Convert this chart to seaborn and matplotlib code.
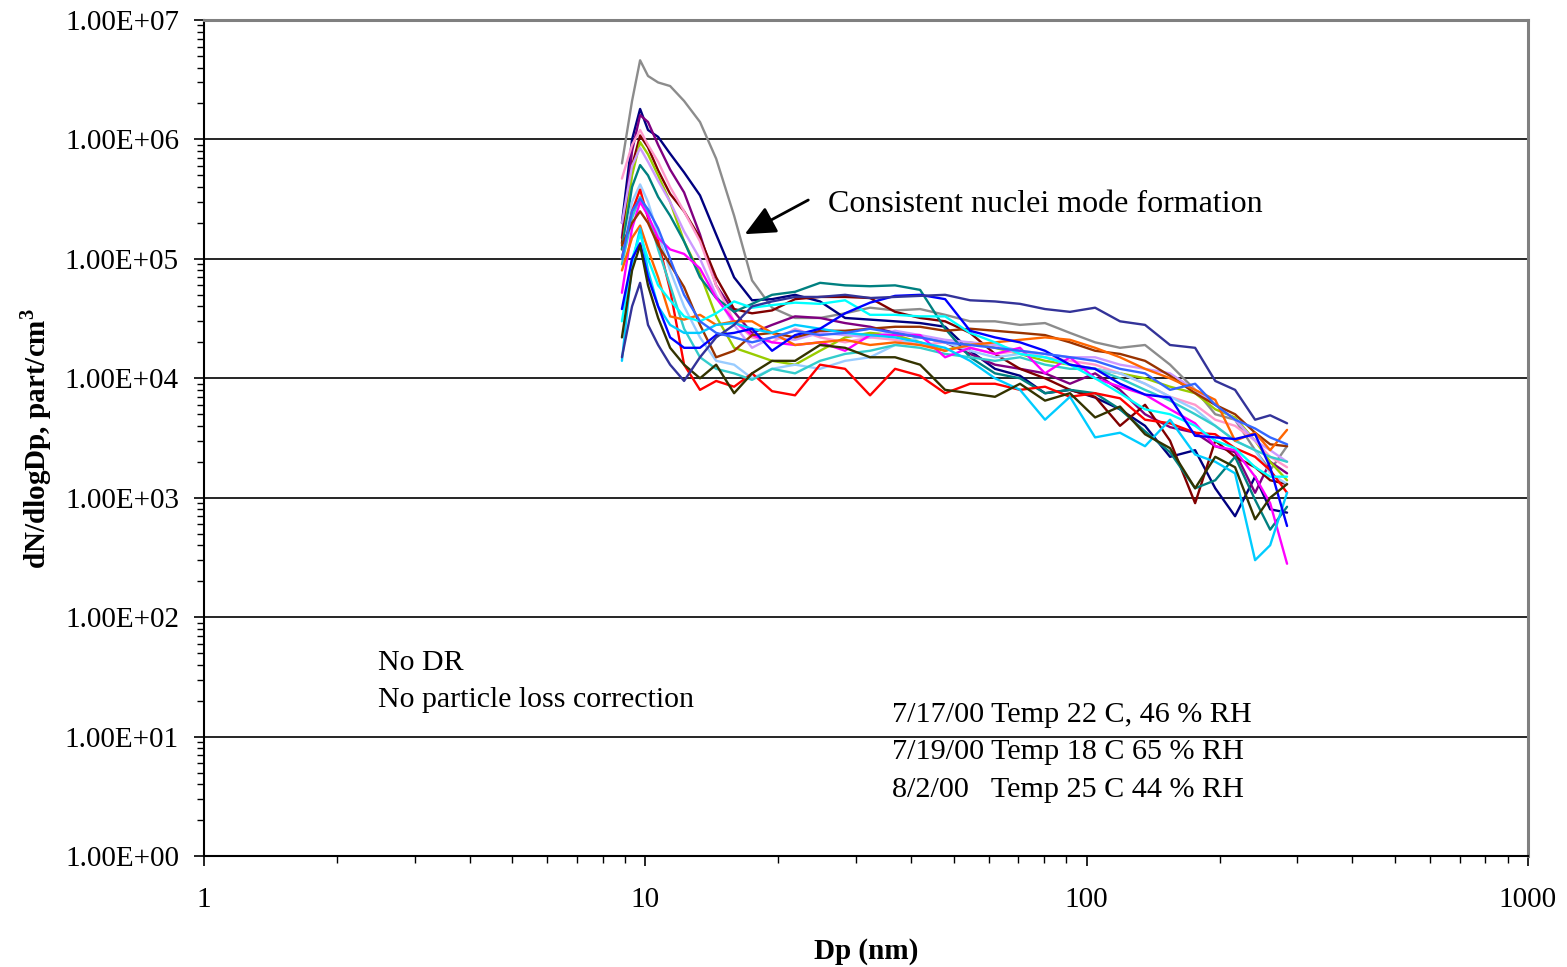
import matplotlib
matplotlib.use("Agg")
import matplotlib.pyplot as plt
import pandas as pd
import seaborn as sns
from matplotlib.ticker import LogLocator, FixedLocator, FixedFormatter, NullFormatter

# Mobility diameter channels (nm)
dp_nm = [8.85, 9.33, 9.73, 10.14, 10.69, 11.38, 12.24, 13.30, 14.47, 15.89,
         17.45, 19.37, 21.84, 24.88, 28.35, 32.30, 36.80, 41.94, 47.78, 54.43,
         61.98, 70.63, 80.47, 91.66, 104.5, 119.0, 135.6, 154.5, 176.1, 195.6,
         216.9, 240.8, 260.5, 284.5]

# dN/dlogDp (part/cm3) for each scan
scan_gray = [6.3e5, 2.1e6, 4.6e6, 3.4e6, 3.0e6, 2.8e6, 2.1e6, 1.4e6, 6.9e5, 2.3e5,
             6.6e4, 3.9e4, 3.2e4, 3.2e4, 3.5e4, 3.9e4, 3.7e4, 3.8e4, 3.4e4, 3.0e4,
             3.0e4, 2.8e4, 2.9e4, 2.4e4, 2.0e4, 1.8e4, 1.9e4, 1.3e4, 8.0e3, 5.0e3,
             4.5e3, 2.5e3, 1.7e3, 2.7e3]
scan_navy = [2.0e5, 1.0e6, 1.8e6, 1.2e6, 1.05e6, 7.6e5, 5.3e5, 3.4e5, 1.6e5, 7.0e4,
             4.5e4, 4.6e4, 5.0e4, 4.4e4, 3.2e4, 3.1e4, 3.0e4, 2.9e4, 2.7e4, 1.7e4,
             1.2e4, 1.05e4, 7.5e3, 8.0e3, 6.9e3, 5.5e3, 4.0e3, 2.2e3, 2.5e3, 1.2e3,
             7.0e2, 1.5e3, 8.0e2, 7.5e2]
scan_purple = [1.5e5, 8.0e5, 1.6e6, 1.4e6, 9.0e5, 5.6e5, 3.6e5, 1.6e5, 6.0e4, 3.6e4,
               2.4e4, 2.8e4, 3.3e4, 3.2e4, 2.9e4, 2.7e4, 2.4e4, 2.2e4, 2.0e4, 1.6e4,
               1.3e4, 1.2e4, 1.1e4, 9.0e3, 1.1e4, 8.0e3, 5.0e3, 3.9e3, 3.5e3, 2.7e3,
               2.4e3, 1.1e3, 2.0e3, 1.6e3]
scan_maroon = [1.35e5, 6.0e5, 1.08e6, 8.6e5, 5.5e5, 3.5e5, 2.5e5, 1.5e5, 7.0e4, 3.8e4,
               3.5e4, 3.7e4, 4.6e4, 4.8e4, 4.8e4, 4.7e4, 3.6e4, 3.2e4, 3.0e4, 2.4e4,
               1.6e4, 1.2e4, 1.0e4, 8.0e3, 7.0e3, 4.0e3, 6.0e3, 3.0e3, 9.0e2, 3.0e3,
               2.2e3, 1.8e3, 1.4e3, 1.3e3]
scan_yellowgreen = [1.2e5, 5.0e5, 9.5e5, 7.5e5, 5.0e5, 3.0e5, 1.4e5, 7.5e4, 3.3e4, 1.8e4,
                    1.6e4, 1.4e4, 1.3e4, 1.7e4, 2.2e4, 2.4e4, 2.3e4, 2.0e4, 1.7e4, 2.0e4,
                    1.8e4, 1.6e4, 1.4e4, 1.3e4, 1.2e4, 1.1e4, 1.0e4, 8.5e3, 7.5e3, 5.5e3,
                    4.7e3, 3.0e3, 2.0e3, 1.4e3]
scan_pink = [4.7e5, 9.0e5, 1.2e6, 9.0e5, 6.5e5, 4.0e5, 2.5e5, 1.4e5, 6.0e4, 3.0e4,
             2.2e4, 2.0e4, 2.6e4, 2.2e4, 2.0e4, 2.2e4, 2.1e4, 1.9e4, 2.0e4, 1.8e4,
             1.6e4, 1.7e4, 1.5e4, 1.4e4, 1.3e4, 1.1e4, 9.0e3, 7.0e3, 6.0e3, 4.5e3,
             4.0e3, 3.0e3, 2.2e3, 1.8e3]
scan_lavender = [2.0e5, 6.0e5, 8.5e5, 6.5e5, 4.5e5, 3.0e5, 1.7e5, 1.0e5, 5.0e4, 2.8e4,
                 1.8e4, 2.2e4, 2.1e4, 2.4e4, 2.3e4, 2.2e4, 2.5e4, 2.3e4, 2.1e4, 2.0e4,
                 1.9e4, 1.7e4, 1.6e4, 1.5e4, 1.5e4, 1.3e4, 1.2e4, 1.1e4, 8.0e3, 6.0e3,
                 4.5e3, 3.0e3, 2.5e3, 2.0e3]
scan_teal = [1.2e5, 4.0e5, 6.1e5, 5.0e5, 3.3e5, 2.3e5, 1.4e5, 7.0e4, 4.7e4, 3.6e4,
             4.2e4, 5.0e4, 5.3e4, 6.3e4, 6.0e4, 5.9e4, 6.0e4, 5.5e4, 2.6e4, 1.5e4,
             1.1e4, 1.0e4, 7.5e3, 8.0e3, 7.5e3, 5.5e3, 3.6e3, 2.4e3, 1.2e3, 1.4e3,
             2.2e3, 9.6e2, 5.4e2, 8.4e2]
scan_lightblue = [1.0e5, 3.0e5, 4.2e5, 3.0e5, 1.6e5, 8.0e4, 4.0e4, 2.2e4, 1.4e4, 1.3e4,
                  1.0e4, 1.2e4, 1.3e4, 1.2e4, 1.4e4, 1.5e4, 1.9e4, 2.2e4, 2.0e4, 1.7e4,
                  1.5e4, 1.6e4, 1.5e4, 1.3e4, 1.2e4, 1.1e4, 9.0e3, 7.0e3, 5.5e3, 4.0e3,
                  3.0e3, 2.5e3, 1.6e3, 1.3e3]
scan_red = [1.0e5, 2.5e5, 3.8e5, 2.2e5, 1.4e5, 5.5e4, 1.3e4, 8.0e3, 9.5e3, 8.5e3,
            1.1e4, 7.8e3, 7.2e3, 1.3e4, 1.2e4, 7.2e3, 1.2e4, 1.05e4, 7.5e3, 9.0e3,
            9.0e3, 8.0e3, 8.5e3, 7.0e3, 7.5e3, 6.8e3, 4.5e3, 4.2e3, 3.5e3, 3.4e3,
            2.6e3, 2.2e3, 1.7e3, 1.1e3]
scan_turquoise = [9.0e4, 2.2e5, 3.3e5, 2.4e5, 1.2e5, 6.0e4, 2.6e4, 1.5e4, 1.2e4, 1.1e4,
                  9.7e3, 1.2e4, 1.1e4, 1.4e4, 1.6e4, 1.7e4, 1.9e4, 1.8e4, 1.6e4, 1.5e4,
                  1.4e4, 1.5e4, 1.3e4, 1.2e4, 1.2e4, 1.0e4, 8.0e3, 6.5e3, 5.0e3, 4.0e3,
                  3.0e3, 2.5e3, 2.2e3, 2.0e3]
scan_magenta = [5.2e4, 1.8e5, 3.0e5, 2.3e5, 1.5e5, 1.2e5, 1.1e5, 8.3e4, 4.7e4, 3.0e4,
                2.3e4, 2.0e4, 1.9e4, 2.0e4, 1.7e4, 2.3e4, 2.3e4, 2.3e4, 1.5e4, 1.8e4,
                1.6e4, 1.8e4, 1.1e4, 1.5e4, 1.0e4, 8.5e3, 7.3e3, 5.5e3, 4.2e3, 2.7e3,
                2.5e3, 1.5e3, 9.0e2, 2.8e2]
scan_brown = [1.3e5, 2.0e5, 2.5e5, 2.0e5, 1.3e5, 9.0e4, 5.8e4, 2.8e4, 1.5e4, 1.7e4,
              2.3e4, 2.4e4, 2.2e4, 2.5e4, 2.5e4, 2.6e4, 2.7e4, 2.7e4, 2.5e4, 2.6e4,
              2.5e4, 2.4e4, 2.3e4, 2.0e4, 1.7e4, 1.6e4, 1.4e4, 1.05e4, 7.5e3, 6.0e3,
              5.0e3, 3.5e3, 2.8e3, 2.7e3]
scan_orange = [8.0e4, 1.5e5, 1.9e5, 1.2e5, 7.0e4, 3.3e4, 3.1e4, 3.4e4, 2.8e4, 3.0e4,
               3.0e4, 2.4e4, 1.9e4, 2.0e4, 2.1e4, 1.9e4, 2.0e4, 1.9e4, 1.7e4, 1.9e4,
               2.0e4, 2.1e4, 2.2e4, 2.1e4, 1.8e4, 1.5e4, 1.2e4, 1.0e4, 8.0e3, 6.6e3,
               3.0e3, 3.5e3, 2.5e3, 3.7e3]
scan_skyblue = [1.4e4, 9.0e4, 1.8e5, 8.0e4, 4.0e4, 2.8e4, 2.4e4, 2.4e4, 2.8e4, 2.9e4,
                2.6e4, 2.4e4, 2.8e4, 2.6e4, 2.4e4, 2.3e4, 2.2e4, 2.0e4, 1.8e4, 1.4e4,
                1.0e4, 8.0e3, 4.5e3, 7.0e3, 3.2e3, 3.5e3, 2.7e3, 4.5e3, 2.3e3, 2.0e3,
                1.6e3, 3.0e2, 4.0e2, 1.1e3]
scan_aqua = [3.0e4, 1.0e5, 1.6e5, 1.0e5, 6.0e4, 4.5e4, 3.3e4, 3.0e4, 3.5e4, 4.4e4,
             3.9e4, 4.1e4, 4.3e4, 4.2e4, 4.5e4, 3.4e4, 3.4e4, 3.3e4, 3.3e4, 2.4e4,
             2.0e4, 1.6e4, 1.5e4, 1.3e4, 1.0e4, 7.5e3, 5.5e3, 5.0e3, 4.0e3, 3.0e3,
             2.6e3, 1.8e3, 1.5e3, 1.5e3]
scan_blue = [3.8e4, 1.0e5, 1.35e5, 7.0e4, 4.0e4, 2.2e4, 1.8e4, 1.8e4, 2.3e4, 2.4e4,
             2.6e4, 1.7e4, 2.3e4, 2.6e4, 3.5e4, 4.3e4, 4.9e4, 5.0e4, 4.6e4, 2.5e4,
             2.2e4, 2.0e4, 1.7e4, 1.3e4, 1.2e4, 9.0e3, 7.3e3, 6.9e3, 3.3e3, 3.2e3,
             3.1e3, 3.4e3, 1.8e3, 5.8e2]
scan_darkolive = [2.2e4, 8.0e4, 1.3e5, 6.0e4, 3.2e4, 1.8e4, 1.3e4, 1.0e4, 1.3e4, 7.5e3,
                  1.1e4, 1.4e4, 1.4e4, 1.9e4, 1.8e4, 1.5e4, 1.5e4, 1.3e4, 8.0e3, 7.5e3,
                  7.0e3, 9.0e3, 6.5e3, 7.5e3, 4.7e3, 5.8e3, 3.4e3, 2.6e3, 1.2e3, 2.2e3,
                  1.8e3, 6.6e2, 1.0e3, 1.3e3]
scan_slate = [1.5e4, 4.0e4, 6.3e4, 2.8e4, 1.9e4, 1.3e4, 9.5e3, 1.5e4, 2.2e4, 2.8e4,
              4.0e4, 4.4e4, 4.8e4, 4.8e4, 5.0e4, 4.7e4, 4.8e4, 4.9e4, 5.0e4, 4.5e4,
              4.4e4, 4.2e4, 3.8e4, 3.6e4, 3.9e4, 3.0e4, 2.8e4, 1.9e4, 1.8e4, 9.5e3,
              8.0e3, 4.5e3, 4.9e3, 4.2e3]
scan_royal = [1.0e5, 2.5e5, 3.2e5, 2.6e5, 1.8e5, 1.0e5, 5.0e4, 3.0e4, 2.4e4, 2.2e4,
              2.0e4, 2.2e4, 2.5e4, 2.3e4, 2.4e4, 2.6e4, 2.4e4, 2.2e4, 2.0e4, 1.9e4,
              1.8e4, 1.7e4, 1.6e4, 1.5e4, 1.4e4, 1.2e4, 1.1e4, 8.0e3, 9.0e3, 6.0e3,
              4.5e3, 3.8e3, 3.2e3, 2.8e3]

scans = [
    ("gray", "#8c8c8c", scan_gray),
    ("navy", "#000080", scan_navy),
    ("purple", "#800080", scan_purple),
    ("maroon", "#800000", scan_maroon),
    ("yellowgreen", "#99cc00", scan_yellowgreen),
    ("pink", "#ff99cc", scan_pink),
    ("lavender", "#cc99ff", scan_lavender),
    ("teal", "#008080", scan_teal),
    ("lightblue", "#99ccff", scan_lightblue),
    ("red", "#ff0000", scan_red),
    ("turquoise", "#33cccc", scan_turquoise),
    ("magenta", "#ff00ff", scan_magenta),
    ("brown", "#993300", scan_brown),
    ("orange", "#ff6600", scan_orange),
    ("skyblue", "#00ccff", scan_skyblue),
    ("aqua", "#00ffff", scan_aqua),
    ("blue", "#0000ff", scan_blue),
    ("darkolive", "#333300", scan_darkolive),
    ("slate", "#333399", scan_slate),
    ("royal", "#3366ff", scan_royal),
]

y_tick_values = [1e0, 1e1, 1e2, 1e3, 1e4, 1e5, 1e6, 1e7]
y_tick_labels = ["1.00E+00", "1.00E+01", "1.00E+02", "1.00E+03",
                 "1.00E+04", "1.00E+05", "1.00E+06", "1.00E+07"]
x_tick_values = [1, 10, 100, 1000]
x_tick_labels = ["1", "10", "100", "1000"]

rows = []
for name, _, vals in scans:
    for d, v in zip(dp_nm, vals):
        rows.append({"scan": name, "Dp": d, "conc": v})
df = pd.DataFrame(rows)
palette = {name: color for name, color, _ in scans}

sns.set_style("white")
plt.rcParams["font.family"] = ["Liberation Serif", "DejaVu Serif"]
plt.rcParams["mathtext.fontset"] = "custom"
plt.rcParams["mathtext.rm"] = "Liberation Serif"
plt.rcParams["mathtext.bf"] = "Liberation Serif:bold"
plt.rcParams["text.color"] = "black"
plt.rcParams["axes.labelcolor"] = "black"
plt.rcParams["xtick.color"] = "black"
plt.rcParams["ytick.color"] = "black"

fig = plt.figure(figsize=(15.67, 9.67), dpi=100)
ax = fig.add_axes([0.1302, 0.1148, 0.8449, 0.8645])

sns.lineplot(data=df, x="Dp", y="conc", hue="scan", palette=palette,
             hue_order=[s[0] for s in scans], estimator=None, sort=False,
             linewidth=1.7, legend=False, ax=ax, zorder=3)

ax.set_xscale("log")
ax.set_yscale("log")
ax.set_xlim(1, 1000)
ax.set_ylim(1, 1e7)

ax.yaxis.set_major_locator(FixedLocator(y_tick_values))
ax.yaxis.set_major_formatter(FixedFormatter(y_tick_labels))
ax.yaxis.set_minor_locator(LogLocator(base=10, subs=range(2, 10), numticks=20))
ax.yaxis.set_minor_formatter(NullFormatter())
ax.xaxis.set_major_locator(FixedLocator(x_tick_values))
ax.xaxis.set_major_formatter(FixedFormatter(x_tick_labels))
ax.xaxis.set_minor_locator(LogLocator(base=10, subs=range(2, 10), numticks=20))
ax.xaxis.set_minor_formatter(NullFormatter())

ax.tick_params(axis="both", which="major", direction="out", length=7, width=1.2,
               color="black", labelsize=21, labelcolor="black")
ax.tick_params(axis="both", which="minor", direction="out", length=5, width=1.0,
               color="black")
ax.tick_params(axis="y", which="both", left=True, pad=11)
ax.tick_params(axis="x", which="both", bottom=True, pad=15)

ax.grid(False)
for yv in y_tick_values[1:-1]:
    ax.axhline(yv, color="black", linewidth=1.2, zorder=1)

for side in ("left", "bottom"):
    ax.spines[side].set_color("black")
    ax.spines[side].set_linewidth(1.5)
for side in ("top", "right"):
    ax.spines[side].set_visible(True)
    ax.spines[side].set_color("#808080")
    ax.spines[side].set_linewidth(2.2)

ax.set_xlabel("Dp (nm)", fontsize=21, fontweight="bold", labelpad=18, color="black")
ax.set_ylabel(r"dN/dlogDp, part/cm$^\mathbf{3}$", fontsize=21, fontweight="bold",
              labelpad=8, color="black")

# Annotation for the nucleation peak
ax.annotate("", xy=(16.8, 1.61e5), xytext=(23.4, 3.11e5),
            arrowprops=dict(arrowstyle="-|>,head_length=0.75,head_width=0.35",
                            color="black", lw=2, mutation_scale=25,
                            shrinkA=0, shrinkB=0), zorder=5)
ax.text(25.9, 2.88e5, "Consistent nuclei mode formation", fontsize=23,
        va="center", ha="left", color="black", zorder=5)

ax.text(2.48, 41.3, "No DR", fontsize=21.5, va="center", ha="left", color="black")
ax.text(2.48, 20.2, "No particle loss correction", fontsize=21.5, va="center",
        ha="left", color="black")

ax.text(36.2, 15.2, "7/17/00 Temp 22 C, 46 % RH", fontsize=21.7, va="center",
        ha="left", color="black")
ax.text(36.2, 7.43, "7/19/00 Temp 18 C 65 % RH", fontsize=21.7, va="center",
        ha="left", color="black")
ax.text(36.2, 3.57, "8/2/00   Temp 25 C 44 % RH", fontsize=21.7, va="center",
        ha="left", color="black")

fig.savefig("out.png", dpi=100, facecolor="white")
